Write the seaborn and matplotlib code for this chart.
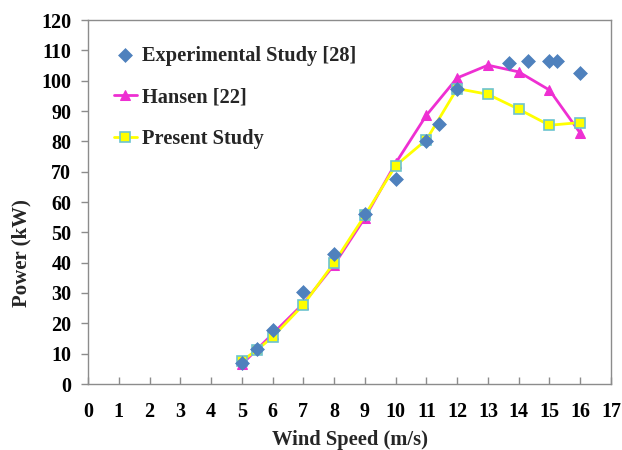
import matplotlib
matplotlib.use("Agg")
import matplotlib.pyplot as plt
import seaborn as sns
import pandas as pd

# ---- data ----
exp_speed = [5, 5.5, 6, 7, 8, 9, 10, 11, 11.4, 12, 13.7, 14.3, 15, 15.25, 16]
exp_power = [7.0, 11.6, 17.9, 30.4, 42.7, 56.0, 67.6, 80.0, 85.6, 97.2, 105.8, 106.6, 106.4, 106.4, 102.4]

hansen_speed = [5, 6, 7, 8, 9, 10, 11, 12, 13, 14, 15, 16]
hansen_power = [6.5, 16.5, 26.5, 39.3, 54.8, 72.8, 88.6, 100.9, 105.1, 102.9, 96.9, 82.7]

present_speed = [5, 5.5, 6, 7, 8, 9, 10, 11, 12, 13, 14, 15, 16]
present_power = [7.6, 11.3, 15.5, 26.1, 40.0, 55.6, 72.0, 80.5, 97.4, 95.5, 90.6, 85.3, 86.2]

x_ticks = list(range(0, 18))
y_ticks = list(range(0, 121, 10))

labels = ["Experimental Study [28]", "Hansen [22]", "Present Study"]

exp_df = pd.DataFrame({"speed": exp_speed, "power": exp_power})
han_df = pd.DataFrame({"speed": hansen_speed, "power": hansen_power})
pre_df = pd.DataFrame({"speed": present_speed, "power": present_power})

sns.set_style("white")
plt.rcParams["font.family"] = ["Liberation Serif", "DejaVu Serif"]
plt.rcParams["font.weight"] = "bold"

fig = plt.figure(figsize=(6.22, 4.5), dpi=100)
ax = fig.add_axes([88 / 622, 66 / 450, 523 / 622, 364 / 450])

sns.lineplot(data=han_df, x="speed", y="power", ax=ax, color="#EE2FD2",
             linewidth=2.0, marker="^", markersize=7, markeredgecolor="#EE2FD2",
             markerfacecolor="#EE2FD2", label=labels[1], zorder=3)
sns.lineplot(data=pre_df, x="speed", y="power", ax=ax, color="#FFFF00",
             linewidth=2.0, marker="s", markersize=7, markerfacecolor="#FFFF00",
             markeredgecolor="#6CC3CF", markeredgewidth=1.2, label=labels[2], zorder=4)
sns.scatterplot(data=exp_df, x="speed", y="power", ax=ax, marker="D", s=50,
                color="#4F81BD", edgecolor="#4F81BD", linewidth=0.5,
                label=labels[0], zorder=5)

ax.set_xlim(0, 17)
ax.set_ylim(0, 120)
ax.set_xticks(x_ticks)
ax.set_yticks(y_ticks)
ax.set_xticklabels([str(v) for v in x_ticks])
ax.set_yticklabels([str(v) for v in y_ticks])

for s in ax.spines.values():
    s.set_color("#8C8C8C")
    s.set_linewidth(1.0)
    s.set_visible(True)

ax.tick_params(axis="x", direction="in", length=5, width=1, color="#8C8C8C",
               pad=13, labelsize=14.5, labelcolor="black", bottom=True)
ax.tick_params(axis="y", direction="out", length=5, width=1, color="#8C8C8C",
               pad=7, labelsize=14.5, labelcolor="black", left=True)
for t in ax.get_xticklabels() + ax.get_yticklabels():
    t.set_fontweight("bold")

ax.set_xlabel("Wind Speed (m/s)", fontsize=14.8, fontweight="bold")
ax.set_ylabel("Power (kW)", fontsize=15, fontweight="bold")
ax.xaxis.set_label_coords(0.5, -0.125)
ax.yaxis.set_label_coords(-0.109, 0.36)

handles, labs = ax.get_legend_handles_labels()
order = [labs.index(l) for l in labels]
leg = ax.legend([handles[i] for i in order], [labs[i] for i in order],
                loc="upper left", bbox_to_anchor=(0.05, 0.929), frameon=False,
                borderpad=0, borderaxespad=0, handlelength=1.1, handletextpad=0.25,
                labelspacing=1.06, prop={"family": "Liberation Serif", "weight": "bold", "size": 14.7})

fig.savefig("out.png", dpi=100)
